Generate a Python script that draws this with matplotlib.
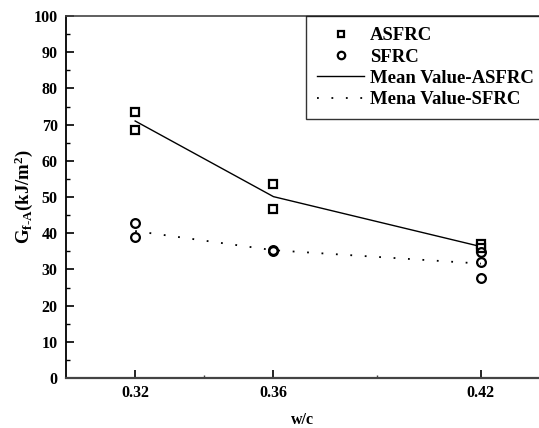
import matplotlib
matplotlib.use("Agg")
import matplotlib.pyplot as plt
from matplotlib.ticker import MultipleLocator, FixedLocator

plt.rcParams['font.family'] = ['Liberation Serif', 'DejaVu Serif']
plt.rcParams['font.weight'] = 'bold'
plt.rcParams['mathtext.fontset'] = 'custom'
plt.rcParams['mathtext.rm'] = 'Liberation Serif:bold'
plt.rcParams['mathtext.bf'] = 'Liberation Serif:bold'
plt.rcParams['mathtext.it'] = 'Liberation Serif:bold'

# data
asfrc_x = [0.32, 0.32, 0.36, 0.36, 0.42, 0.42]
asfrc_y = [73.6, 68.4, 53.6, 46.6, 37.0, 35.8]
sfrc_x = [0.32, 0.32, 0.36, 0.36, 0.42, 0.42, 0.42]
sfrc_y = [42.8, 39.0, 35.4, 35.2, 34.7, 32.1, 27.7]
mean_x = [0.32, 0.36, 0.42]
mean_asfrc = [71.0, 50.1, 36.3]
mean_sfrc = [40.6, 35.3, 31.6]
xticks = [0.32, 0.36, 0.42]
xminor = [0.34, 0.39]
xticklabels = ['0.32', '0.36', '0.42']

fig = plt.figure(figsize=(5.39, 4.28), dpi=100)
ax = fig.add_axes([66/539, 50/428, (539-66)/539, 362/428])

ax.plot(asfrc_x, asfrc_y, linestyle='none', marker='s', markersize=5.5,
        markerfacecolor='white', markeredgecolor='black', markeredgewidth=1.6,
        label='ASFRC', zorder=3)
ax.plot(sfrc_x, sfrc_y, linestyle='none', marker='o', markersize=6.3,
        markerfacecolor='none', markeredgecolor='black', markeredgewidth=1.6,
        label='SFRC', zorder=3)
ax.plot(mean_x, mean_asfrc, color='black', linewidth=1.0, label='Mean Value-ASFRC')
ax.plot(mean_x, mean_sfrc, color='black', linewidth=1.3, linestyle=(0, (1, 7)),
        label='Mena Value-SFRC')

ax.set_xlim(0.30, 0.4368)
ax.set_ylim(0, 100)
ax.yaxis.set_major_locator(MultipleLocator(10))
ax.yaxis.set_minor_locator(MultipleLocator(5))
ax.xaxis.set_major_locator(FixedLocator(xticks))
ax.xaxis.set_minor_locator(FixedLocator(xminor))
ax.set_xticklabels(xticklabels)

ax.tick_params(axis='y', which='major', direction='in', length=6, width=1.2,
               labelsize=11.5, pad=6)
ax.tick_params(axis='y', which='minor', direction='in', length=3, width=1)
ax.tick_params(axis='x', which='major', direction='in', length=6, width=1.2,
               labelsize=11.5, pad=5)
ax.tick_params(axis='x', which='minor', direction='in', length=2, width=1,
               color='#444444')
for lab in ax.get_xticklabels() + ax.get_yticklabels():
    lab.set_fontweight('bold')

ax.spines['left'].set_linewidth(1.3)
ax.spines['left'].set_color('black')
ax.spines['bottom'].set_linewidth(1.6)
ax.spines['bottom'].set_color('#444444')
ax.spines['top'].set_linewidth(1.2)
ax.spines['top'].set_color('#444444')
ax.spines['right'].set_visible(False)

ax.set_xlabel('w/c', fontsize=11.5, fontweight='bold', labelpad=8)
ax.set_ylabel('G$_{\\mathrm{f\u2010A}}$(kJ/m$^{\\mathrm{2}}$)', fontsize=13.5,
              fontweight='bold', labelpad=-1)

leg = ax.legend(loc='upper left', bbox_to_anchor=(306/539, 1 - 16/428),
                bbox_transform=fig.transFigure, frameon=True, fancybox=False,
                edgecolor='black', fontsize=13.5, handlelength=2.5,
                handletextpad=0.3, labelspacing=0.22, borderpad=0.6,
                markerscale=0.85, borderaxespad=0)
leg.get_frame().set_linewidth(1.0)
for t in leg.get_texts():
    t.set_fontweight('bold')

fig.savefig('out.png', dpi=100)
